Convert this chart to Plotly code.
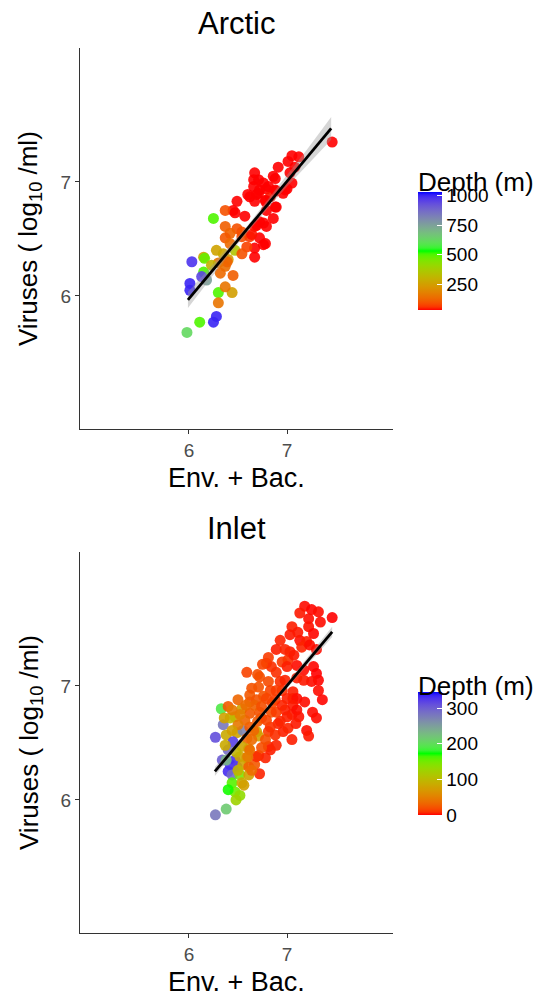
import numpy as np
import plotly.graph_objects as go

# --- Arctic samples: env+bac prediction, observed viruses, depth ---
arctic_x = [7.46, 7.05, 7.12, 7.01, 7.08, 6.91, 6.67, 6.86, 7.03, 7.05,
            7.00, 6.71, 6.76, 6.79, 6.66, 6.62, 6.71, 6.83, 6.89, 6.96,
            6.49, 6.67, 6.78, 6.89, 6.45, 6.57, 6.37, 6.47, 6.86, 6.72,
            6.79, 6.67, 6.25, 6.37, 6.49, 6.42, 6.54, 6.62, 6.72, 6.78,
            6.67, 6.59, 6.37, 6.67, 6.47, 6.28, 6.35, 6.15, 6.16, 6.40,
            6.37, 6.32, 6.45, 6.03, 6.15, 6.18, 6.13, 6.01, 6.01, 6.30,
            6.44, 6.37, 6.30, 6.28, 6.25, 6.11, 5.98, 6.88, 6.66, 6.81,
            6.72, 6.69, 6.60, 6.88, 6.98, 6.78, 6.88, 6.79, 6.76, 6.69,
            6.54, 6.64, 6.54, 6.76, 6.39, 6.30, 6.23, 6.42]
arctic_y = [7.35, 7.23, 7.22, 7.18, 7.13, 7.13, 7.08, 7.05, 7.08, 6.99,
            6.94, 7.02, 6.99, 6.94, 6.96, 6.87, 6.90, 6.87, 6.92, 6.90,
            6.83, 6.83, 6.83, 6.78, 6.75, 6.70, 6.75, 6.73, 6.68, 6.65,
            6.61, 6.61, 6.68, 6.61, 6.59, 6.55, 6.52, 6.52, 6.51, 6.46,
            6.42, 6.43, 6.51, 6.34, 6.40, 6.40, 6.37, 6.34, 6.33, 6.32,
            6.26, 6.20, 6.18, 6.30, 6.21, 6.14, 6.17, 6.11, 6.05, 6.03,
            6.03, 6.08, 5.94, 5.82, 5.77, 5.77, 5.68, 7.03, 7.02, 6.96,
            6.93, 6.89, 6.89, 6.93, 6.93, 6.84, 6.78, 6.75, 6.64, 6.62,
            6.56, 6.54, 6.37, 6.45, 6.30, 6.29, 6.27, 6.46]
arctic_depth = [20, 15, 15, 20, 15, 25, 20, 15, 15, 30,
                20, 15, 15, 20, 30, 25, 15, 40, 20, 30,
                20, 15, 15, 30, 20, 15, 90, 20, 20, 30,
                15, 40, 500, 110, 90, 120, 80, 60, 30, 20,
                25, 70, 100, 15, 350, 260, 270, 250, 480, 240,
                140, 130, 110, 980, 500, 750, 950, 1000, 1000, 500,
                250, 150, 150, 1000, 1000, 500, 620, 20, 15, 15,
                20, 25, 20, 15, 30, 20, 25, 15, 20, 30,
                90, 40, 90, 15, 120, 150, 300, 130]

# linear fit and its confidence band (Arctic)
arctic_band_x = [5.99, 6.2, 6.4, 6.6, 6.8, 7.0, 7.2, 7.45]
arctic_band_lo = [5.895, 6.13, 6.355, 6.56, 6.765, 6.96, 7.14, 7.37]
arctic_band_hi = [6.035, 6.23, 6.425, 6.62, 6.835, 7.06, 7.28, 7.57]
arctic_fit_x = [5.99, 7.45]
arctic_fit_y = [5.965, 7.47]

# --- Inlet samples ---
inlet_x = [7.18, 7.25, 7.32, 7.46, 7.13, 7.22, 7.34, 7.22, 7.27, 7.05,
           7.03, 7.13, 7.20, 7.15, 7.23, 6.89, 7.03, 7.01, 6.95, 6.79,
           6.84, 7.00, 7.10, 7.17, 7.27, 7.30, 7.32, 7.25, 7.17, 7.10,
           6.59, 6.72, 6.81, 6.93, 6.71, 6.83, 6.95, 7.06, 6.62, 6.76,
           7.06, 7.18, 6.33, 6.40, 6.54, 6.62, 6.69, 6.79, 7.00, 7.10,
           6.98, 7.05, 7.30, 6.47, 6.62, 6.72, 6.84, 6.91, 6.96, 6.81,
           7.20, 7.22, 6.35, 6.27, 6.38, 6.49, 6.55, 6.62, 6.69, 6.71,
           6.59, 6.45, 6.54, 6.61, 6.40, 6.83, 6.71, 6.78, 6.47, 6.52,
           6.59, 6.42, 6.49, 6.55, 6.61, 6.67, 6.72, 6.40, 6.44, 6.52,
           6.61, 6.44, 6.54, 6.47, 6.52, 6.38, 6.27, 7.06, 7.10, 7.00,
           7.12, 6.93, 6.83, 6.81, 6.69, 6.67, 6.74, 6.57, 6.50, 6.64,
           6.78, 6.88, 6.88, 6.50, 6.42, 6.62, 6.74, 6.89, 6.44, 6.37,
           6.34, 6.48, 6.70, 6.98, 6.89, 6.75, 7.07, 7.32,
           6.64, 6.74, 6.85, 6.95, 6.89, 6.58, 6.52, 6.79, 7.01, 7.09,
           7.05, 6.89, 6.66, 6.60, 6.64, 6.56, 6.48, 6.40, 6.38, 6.50,
           6.36, 6.44, 6.98, 7.11, 6.93, 7.30, 7.36, 7.26, 6.70, 6.81]
inlet_y = [7.70, 7.67, 7.65, 7.60, 7.64, 7.59, 7.56, 7.52, 7.46, 7.52,
           7.45, 7.40, 7.39, 7.34, 7.36, 7.32, 7.30, 7.23, 7.21, 7.20,
           7.17, 7.17, 7.18, 7.14, 7.17, 7.11, 7.05, 7.04, 7.05, 7.07,
           7.12, 7.08, 7.04, 7.04, 6.99, 6.96, 6.96, 6.95, 6.92, 6.91,
           6.89, 6.86, 6.80, 6.82, 6.80, 6.86, 6.88, 6.89, 6.89, 6.89,
           6.79, 6.75, 6.72, 6.73, 6.76, 6.77, 6.77, 6.67, 6.60, 6.60,
           6.61, 6.56, 6.66, 6.55, 6.57, 6.59, 6.61, 6.64, 6.60, 6.56,
           6.54, 6.51, 6.47, 6.45, 6.44, 6.44, 6.39, 6.37, 6.35, 6.38,
           6.37, 6.31, 6.29, 6.31, 6.29, 6.31, 6.23, 6.25, 6.22, 6.22,
           6.22, 6.15, 6.15, 6.07, 6.04, 5.92, 5.87, 6.83, 6.79, 6.73,
           6.73, 6.69, 6.64, 6.47, 6.38, 6.83, 6.72, 6.70, 6.66, 6.53,
           6.53, 6.57, 6.88, 6.88, 6.72, 6.44, 6.46, 6.77, 6.61, 6.48,
           6.35, 6.42, 6.69, 7.05, 7.12, 7.19, 7.27, 6.96,
           6.98, 6.82, 6.85, 6.83, 6.96, 6.83, 6.75, 6.70, 6.63, 6.67,
           6.53, 6.48, 6.61, 6.38, 6.26, 6.13, 6.00, 6.09, 6.35, 6.26,
           6.72, 6.79, 7.32, 7.47, 7.40, 7.32, 6.88, 6.77, 7.10, 7.25]
inlet_depth = [2, 1, 2, 0, 4, 2, 2, 3, 1, 5,
               4, 2, 5, 6, 2, 5, 5, 8, 10, 12,
               8, 5, 2, 2, 1, 0, 1, 2, 4, 5,
               15, 20, 18, 8, 22, 15, 8, 5, 25, 22,
               5, 2, 190, 25, 78, 25, 22, 15, 5, 2,
               5, 4, 2, 80, 25, 22, 20, 6, 5, 12,
               2, 4, 280, 310, 85, 80, 270, 25, 78, 75,
               30, 320, 80, 78, 290, 5, 15, 6, 330, 80,
               78, 330, 320, 80, 30, 25, 6, 330, 290, 145,
               78, 160, 85, 150, 135, 215, 280, 4, 2, 5,
               3, 6, 8, 6, 8, 30, 22, 32, 45, 35,
               20, 8, 12, 32, 100, 35, 20, 12, 75, 85,
               300, 95, 25, 6, 8, 15, 4, 2,
               22, 20, 15, 6, 12, 35, 48, 15, 6, 4,
               5, 6, 32, 45, 35, 75, 125, 170, 230, 95,
               78, 45, 6, 4, 6, 2, 1, 2, 20, 12]

inlet_band_x = [6.265, 6.5, 6.7, 6.9, 7.1, 7.3, 7.46]
inlet_band_lo = [6.21, 6.465, 6.682, 6.882, 7.085, 7.275, 7.43]
inlet_band_hi = [6.29, 6.515, 6.718, 6.918, 7.135, 7.345, 7.52]
inlet_fit_x = [6.265, 7.46]
inlet_fit_y = [6.25, 7.475]

arctic_ticks = [250, 500, 750, 1000]
inlet_ticks = [0, 100, 200, 300]


# red -> green -> blue gradient interpolated in CIELAB (like ggplot's gradientn)
def _to_lab(hexc):
    rgb = [int(hexc[i:i + 2], 16) / 255 for i in (1, 3, 5)]
    r, g, b = [((c + 0.055) / 1.055) ** 2.4 if c > 0.04045 else c / 12.92 for c in rgb]
    X = (0.4124 * r + 0.3576 * g + 0.1805 * b) / 0.95047
    Y = 0.2126 * r + 0.7152 * g + 0.0722 * b
    Z = (0.0193 * r + 0.1192 * g + 0.9505 * b) / 1.08883
    f = lambda t: t ** (1 / 3) if t > 0.008856 else 7.787 * t + 16 / 116
    fx, fy, fz = f(X), f(Y), f(Z)
    return np.array([116 * fy - 16, 500 * (fx - fy), 200 * (fy - fz)])


def _from_lab(lab):
    L, a, b = lab
    fy = (L + 16) / 116
    fx, fz = fy + a / 500, fy - b / 200
    finv = lambda t: t ** 3 if t ** 3 > 0.008856 else (t - 16 / 116) / 7.787
    X, Y, Z = finv(fx) * 0.95047, finv(fy), finv(fz) * 1.08883
    r = 3.2406 * X - 1.5372 * Y - 0.4986 * Z
    g = -0.9689 * X + 1.8758 * Y + 0.0415 * Z
    bb = 0.0557 * X - 0.2040 * Y + 1.0570 * Z
    out = []
    for c in (r, g, bb):
        c = min(max(c, 0), 1)
        c = 1.055 * c ** (1 / 2.4) - 0.055 if c > 0.0031308 else 12.92 * c
        out.append(int(round(min(max(c, 0), 1) * 255)))
    return "rgb(%d,%d,%d)" % tuple(out)


def lab_scale(colors, n=41):
    labs = [_to_lab(c) for c in colors]
    scale = []
    for t in np.linspace(0, 1, n):
        pos = t * (len(labs) - 1)
        i = min(int(pos), len(labs) - 2)
        u = pos - i
        scale.append([float(t), _from_lab(labs[i] * (1 - u) + labs[i + 1] * u)])
    return scale


depth_scale = lab_scale(["#FF0000", "#00FF00", "#0000FF"])

FONT = "Liberation Sans, Arial, sans-serif"
AXIS_COLOR = "#333333"

fig = go.Figure()

panels = [
    ("x", "y", "coloraxis", arctic_x, arctic_y, arctic_depth,
     arctic_band_x, arctic_band_lo, arctic_band_hi, arctic_fit_x, arctic_fit_y),
    ("x2", "y2", "coloraxis2", inlet_x, inlet_y, inlet_depth,
     inlet_band_x, inlet_band_lo, inlet_band_hi, inlet_fit_x, inlet_fit_y),
]

for xa, ya, cax, px, py, pd_, bx, blo, bhi, fx, fy in panels:
    fig.add_trace(go.Scatter(
        x=px, y=py, mode="markers", xaxis=xa, yaxis=ya, showlegend=False,
        marker=dict(size=11, color=pd_, coloraxis=cax, opacity=0.9, line=dict(width=0)),
    ))
    fig.add_trace(go.Scatter(
        x=bx + bx[::-1], y=bhi + blo[::-1], xaxis=xa, yaxis=ya, fill="toself",
        fillcolor="rgba(153,153,153,0.4)", line=dict(width=0), mode="lines",
        showlegend=False, hoverinfo="skip",
    ))
    fig.add_trace(go.Scatter(
        x=fx, y=fy, xaxis=xa, yaxis=ya, mode="lines", showlegend=False,
        line=dict(color="black", width=2.8),
    ))


def axis_style(anchor, rng, domain):
    return dict(
        anchor=anchor, domain=domain, range=rng, tickvals=[6, 7], automargin=False,
        showline=True, linecolor=AXIS_COLOR, linewidth=1, ticks="outside",
        ticklen=4, tickcolor=AXIS_COLOR, showgrid=False, zeroline=False,
        tickfont=dict(size=19, color="#4d4d4d"),
    )


def colorbar(y, length, ticks):
    return dict(
        x=1.08, xanchor="left", y=y, yanchor="middle", len=length, lenmode="pixels",
        thickness=24, outlinewidth=0, tickvals=ticks, ticks="inside",
        tickcolor="white", ticklen=5, tickfont=dict(size=19, color="black"),
        ypad=0, xpad=0,
    )


# paper coordinates: plot area spans pixels x 80..393, y 48..933
def px_x(p):
    return (p - 80) / 313


def px_y(p):
    return (933 - p) / 885


annotations = []
for title, top in [("Arctic", 48), ("Inlet", 552)]:
    annotations += [
        dict(text=title, x=0.5, y=px_y(top - 24), showarrow=False,
             font=dict(size=31), yanchor="middle"),
        dict(text="Env. + Bac.", x=0.5, y=px_y(top + 430), showarrow=False,
             font=dict(size=27), yanchor="middle"),
        dict(text="Viruses ( log<sub>10</sub> /ml)", x=px_x(30), y=px_y(top + 191),
             showarrow=False, textangle=-90, font=dict(size=26),
             xanchor="center", yanchor="middle"),
        dict(text="Depth (m)", x=px_x(416), y=px_y(top + 134), showarrow=False,
             font=dict(size=26), xanchor="left", yanchor="middle"),
    ]
for a in annotations:
    a.update(xref="paper", yref="paper")

fig.update_layout(
    width=538, height=995,
    margin=dict(l=80, r=145, t=48, b=62, autoexpand=False),
    paper_bgcolor="white", plot_bgcolor="white",
    font=dict(family=FONT, color="black"),
    xaxis=axis_style("y", [4.89, 8.08], [0, 1]),
    yaxis=axis_style("x", [4.833, 8.175], [px_y(429), 1]),
    xaxis2=axis_style("y2", [4.89, 8.08], [0, 1]),
    yaxis2=axis_style("x2", [4.833, 8.175], [0, px_y(552)]),
    coloraxis=dict(colorscale=depth_scale, cmin=30, cmax=1030,
                   colorbar=colorbar(px_y(251), 118, arctic_ticks)),
    coloraxis2=dict(colorscale=depth_scale, cmin=0, cmax=345,
                    colorbar=colorbar(px_y(753.5), 123, inlet_ticks)),
    annotations=annotations,
)

# the page body has a default 8px margin; drop it so the figure fills the window
fig.write_html("out.html", config={"displayModeBar": False},
               post_script="document.body.style.margin='0';")
